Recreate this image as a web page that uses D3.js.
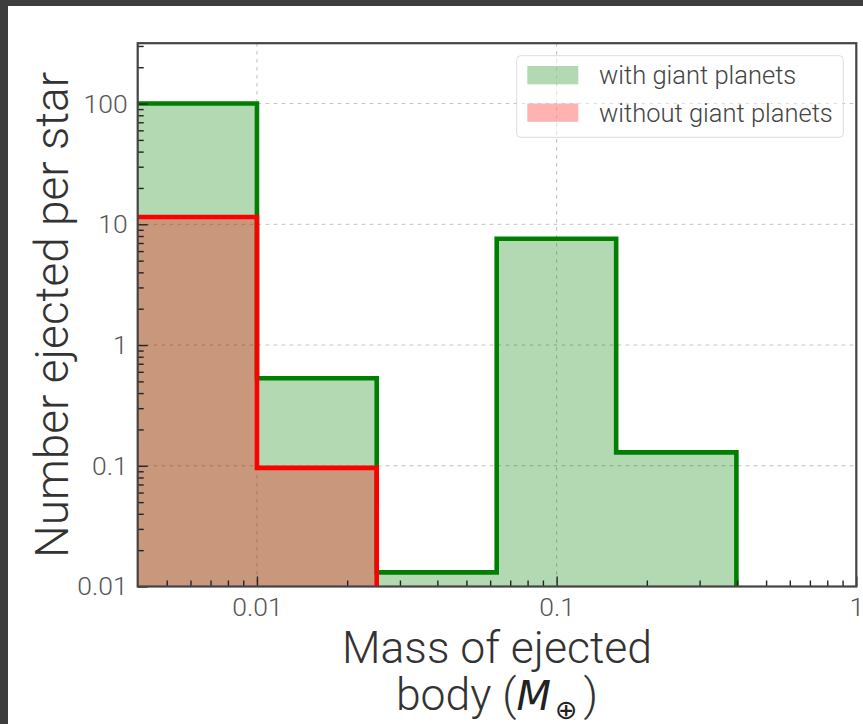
<!DOCTYPE html>
<html>
<head>
<meta charset="utf-8">
<script src="https://cdn.jsdelivr.net/npm/d3@7"></script>
<style>
  html, body { margin: 0; padding: 0; background: #3d3d3d; }
  svg { display: block; }
</style>
</head>
<body>
<script>
// Histogram bin edges (Earth masses), log-spaced
const binEdges = [0.00398, 0.01, 0.0251, 0.0631, 0.158, 0.398];
// Number ejected per star in each bin
const withGiantPlanets = [100, 0.53, 0.0131, 7.6, 0.129];
const withoutGiantPlanets = [11.5, 0.096, 0, 0, 0];

const xTickValues = [0.01, 0.1, 1];
const xTickLabels = ["0.01", "0.1", "1"];
const yTickValues = [0.01, 0.1, 1, 10, 100];
const yTickLabels = ["0.01", "0.1", "1", "10", "100"];

const seriesNames = ["with giant planets", "without giant planets"];
const seriesColors = ["#008000", "#ff0000"];

const W = 863, H = 724;
const plot = { left: 137.7, right: 856.3, top: 43.2, bottom: 586.5 };

const svg = d3.select("body").append("svg").attr("width", W).attr("height", H);

// page frame: dark strip on top and left, white sheet
svg.append("rect").attr("width", W).attr("height", H).attr("fill", "#3d3d3d");
svg.append("rect").attr("x", 8).attr("y", 6).attr("width", W - 8).attr("height", H - 6).attr("fill", "#ffffff");

const x = d3.scaleLog().domain([0.004, 1]).range([plot.left, plot.right]);
const y = d3.scaleLog().domain([0.01, Math.pow(10, 2.5)]).range([plot.bottom, plot.top]);

const defs = svg.append("defs");
defs.append("clipPath").attr("id", "plotClip").append("rect")
  .attr("x", plot.left).attr("y", plot.top)
  .attr("width", plot.right - plot.left).attr("height", plot.bottom - plot.top);

// grid on major ticks
const grid = svg.append("g");
grid.selectAll("line.gx").data([0.01, 0.1]).enter().append("line")
  .attr("x1", d => x(d)).attr("x2", d => x(d))
  .attr("y1", plot.top).attr("y2", plot.bottom)
  .attr("stroke", "#bdbdbd").attr("stroke-width", 1).attr("stroke-dasharray", "3.5,4.5");
grid.selectAll("line.gy").data([0.1, 1, 10, 100]).enter().append("line")
  .attr("y1", d => y(d)).attr("y2", d => y(d))
  .attr("x1", plot.left).attr("x2", plot.right)
  .attr("stroke", "#bdbdbd").attr("stroke-width", 1).attr("stroke-dasharray", "3.5,4.5");

// step histograms; empty bins fall below the axis and are clipped
const belowAxis = plot.bottom + 40;
function yVal(v) { return v > 0 ? y(v) : belowAxis; }

function outlinePoints(values) {
  const pts = [];
  values.forEach((v, i) => {
    pts.push([x(binEdges[i]), yVal(v)]);
    pts.push([x(binEdges[i + 1]), yVal(v)]);
  });
  pts.push([x(binEdges[binEdges.length - 1]), belowAxis]);
  return pts;
}
function fillPoints(values) {
  return [[x(binEdges[0]), belowAxis]].concat(outlinePoints(values));
}

const marks = svg.append("g").attr("clip-path", "url(#plotClip)");
const line = d3.line();
[withGiantPlanets, withoutGiantPlanets].forEach((vals, k) => {
  marks.append("path").attr("d", line(fillPoints(vals)) + "Z")
    .attr("fill", seriesColors[k]).attr("fill-opacity", 0.3).attr("stroke", "none");
});
[withGiantPlanets, withoutGiantPlanets].forEach((vals, k) => {
  marks.append("path").attr("d", line(outlinePoints(vals)))
    .attr("fill", "none").attr("stroke", seriesColors[k])
    .attr("stroke-width", 4.6).attr("stroke-linejoin", "miter");
});

// minor tick values
function minorTicks(lo, hi) {
  const out = [];
  for (let e = Math.floor(Math.log10(lo)); e <= Math.ceil(Math.log10(hi)); e++) {
    for (let m = 2; m <= 9; m++) {
      const v = m * Math.pow(10, e);
      if (v > lo * 1.0001 && v < hi * 0.9999) out.push(v);
    }
  }
  return out;
}

const textFont = "'Helvetica Neue', Roboto, 'Liberation Sans', sans-serif";

// x axis (inward ticks)
const xAxisMajor = d3.axisBottom(x).tickValues(xTickValues)
  .tickFormat((d, i) => xTickLabels[i]).tickSize(-10).tickPadding(11);
const xAxisMinor = d3.axisBottom(x).tickValues(minorTicks(0.004, 1))
  .tickFormat("").tickSize(-6);
svg.append("g").attr("transform", `translate(0,${plot.bottom})`).call(xAxisMinor);
const gx2 = svg.append("g").attr("transform", `translate(0,${plot.bottom})`).call(xAxisMajor);

// y axis (inward ticks)
const yAxisMajor = d3.axisLeft(y).tickValues(yTickValues)
  .tickFormat((d, i) => yTickLabels[i]).tickSize(-10).tickPadding(10);
const yAxisMinor = d3.axisLeft(y).tickValues(minorTicks(0.01, Math.pow(10, 2.5)))
  .tickFormat("").tickSize(-6);
svg.append("g").attr("transform", `translate(${plot.left},0)`).call(yAxisMinor);
svg.append("g").attr("transform", `translate(${plot.left},0)`).call(yAxisMajor);

svg.selectAll(".domain").remove();
svg.selectAll(".tick line").attr("stroke", "#222").attr("stroke-width", 1.4);
svg.selectAll(".tick text")
  .attr("font-family", textFont).attr("font-weight", 300)
  .attr("font-size", 26.5).attr("fill", "#555");
gx2.selectAll(".tick text").attr("dy", "0.71em");

// axes frame
svg.append("rect")
  .attr("x", plot.left).attr("y", plot.top)
  .attr("width", plot.right - plot.left).attr("height", plot.bottom - plot.top)
  .attr("fill", "none").attr("stroke", "#444").attr("stroke-width", 2.2);

// axis titles
svg.append("text")
  .attr("transform", `translate(68,${(plot.top + plot.bottom) / 2}) rotate(-90)`)
  .attr("text-anchor", "middle")
  .attr("font-family", textFont).attr("font-weight", 300)
  .attr("font-size", 46).attr("fill", "#333")
  .text("Number ejected per star");

const xt = svg.append("text")
  .attr("text-anchor", "middle")
  .attr("font-family", textFont).attr("font-weight", 300)
  .attr("font-size", 44.5).attr("fill", "#333");
xt.append("tspan").attr("x", 497).attr("y", 663).text("Mass of ejected");
const l2 = xt.append("tspan").attr("x", 497).attr("y", 710);
l2.append("tspan").text("body (");
l2.append("tspan").attr("font-family", "'DejaVu Sans', sans-serif")
  .attr("font-style", "italic").attr("font-weight", 400).attr("font-size", 40).attr("fill", "#222").text("M");
l2.append("tspan").attr("font-family", "'DejaVu Sans', sans-serif")
  .attr("font-weight", 400).attr("font-size", 27).attr("dy", 9).attr("dx", 4).attr("fill", "#222").text("\u2295");
l2.append("tspan").attr("dy", -9).attr("dx", 6).text(")");

// legend
const lg = svg.append("g");
lg.append("rect")
  .attr("x", 516.7).attr("y", 55.7).attr("width", 326.6).attr("height", 81.6)
  .attr("rx", 4).attr("fill", "#ffffff").attr("fill-opacity", 0.5)
  .attr("stroke", "#dddddd").attr("stroke-width", 1);
seriesNames.forEach((name, i) => {
  const yy = 66 + i * 37.5;
  lg.append("rect").attr("x", 527.3).attr("y", yy).attr("width", 51).attr("height", 18.3)
    .attr("fill", seriesColors[i]).attr("fill-opacity", 0.3);
  lg.append("text").attr("x", 599).attr("y", yy + 18)
    .attr("font-family", textFont).attr("font-weight", 300)
    .attr("font-size", 25.5).attr("fill", "#444").text(name);
});
</script>
</body>
</html>
